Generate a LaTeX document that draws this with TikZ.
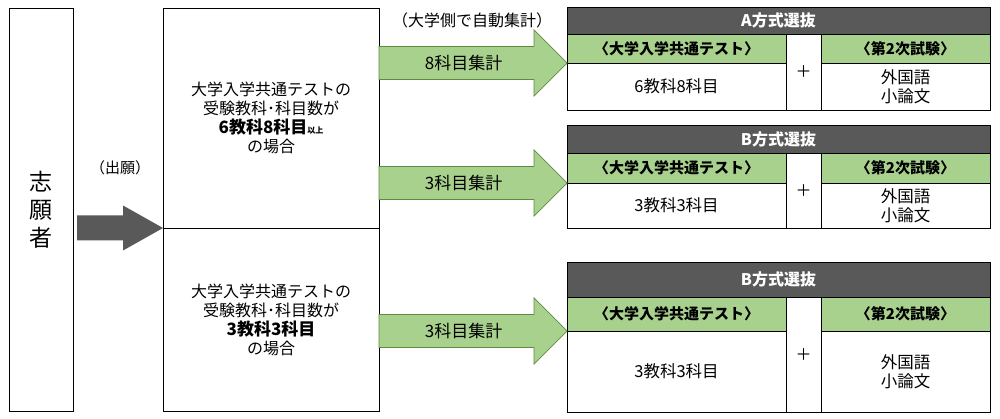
\documentclass[tikz,border=0pt]{standalone}
\usepackage{fontspec}
\setmainfont{Noto Sans CJK JP}
\usepackage{tikz}
\usetikzlibrary{calc}

\definecolor{titlegray}{HTML}{595959}
\definecolor{headgreen}{HTML}{A9D18E}
\definecolor{arrowgreen}{HTML}{5E8C3E}
\definecolor{applygray}{HTML}{595959}

\begin{document}
\begin{tikzpicture}[x=1pt,y=-1pt,
    every node/.style={inner sep=0pt, outer sep=0pt},
    box/.style={draw=black, line width=0.9pt, fill=white, anchor=north west, align=center},
    seltitle/.style={box, fill=titlegray, text=white, font=\fontsize{16}{19}\selectfont\bfseries},
    selhead/.style={box, fill=headgreen, font=\fontsize{15}{18}\selectfont\bfseries},
    selcell/.style={box, font=\fontsize{16.5}{19.5}\selectfont},
    blockarrow/.style args={#1/#2/#3}{to path={
        ($(\tikztostart)+(0,-#1)$) -- ($(\tikztotarget)+(-#3,-#1)$)
        -- ($(\tikztotarget)+(-#3,-#2)$) -- (\tikztotarget)
        -- ($(\tikztotarget)+(-#3,#2)$) -- ($(\tikztotarget)+(-#3,#1)$)
        -- ($(\tikztostart)+(0,#1)$) -- cycle}},
    gostep/.style={blockarrow=16.5/33/33, fill=headgreen, draw=arrowgreen, line width=0.7pt},
    applystep/.style={blockarrow=12.5/22.5/40, fill=applygray},
    steplabel/.style={font=\fontsize{17}{19}\selectfont}]

    \fill [white] (0,0) rectangle (1000,419);

    % applicant and the two cases
    \node [box, minimum width=64, minimum height=403, font=\fontsize{23}{28}\selectfont] (applicant) at (9,8) {志\\願\\者};
    \node [box, minimum width=216, minimum height=220, font=\fontsize{16}{19}\selectfont] (caseA) at (163,8)
        {大学入学共通テストの\\受験教科･科目数が\\{\bfseries\fontsize{17}{19}\selectfont 6教科8科目}{\bfseries\fontsize{8}{8}\selectfont 以上}\\の場合};
    \node [box, minimum width=216, minimum height=183, font=\fontsize{16}{19}\selectfont] (caseB) at (163,228)
        {大学入学共通テストの\\受験教科･科目数が\\{\bfseries\fontsize{17}{19}\selectfont 3教科3科目}\\の場合};

    % A selection
    \node [seltitle, minimum width=423, minimum height=27] (selA) at (567,7) {A方式選抜};
    \node [selhead, minimum width=219, minimum height=29] (selA-test) at (selA.south west) {〈大学入学共通テスト〉};
    \node [box, minimum width=35, minimum height=76, font=\fontsize{16}{19}\selectfont] (selA-plus) at (selA-test.north east) {＋};
    \node [selhead, minimum width=169, minimum height=29] (selA-exam) at (selA-plus.north east) {〈第2次試験〉};
    \node [selcell, minimum width=219, minimum height=47] (selA-subj) at (selA-test.south west) {6教科8科目};
    \node [selcell, minimum width=169, minimum height=47] (selA-essay) at (selA-exam.south west) {外国語\\小論文};

    % B selection (upper)
    \node [seltitle, minimum width=423, minimum height=28] (selB) at (567,125) {B方式選抜};
    \node [selhead, minimum width=219, minimum height=30] (selB-test) at (selB.south west) {〈大学入学共通テスト〉};
    \node [box, minimum width=35, minimum height=75, font=\fontsize{16}{19}\selectfont] (selB-plus) at (selB-test.north east) {＋};
    \node [selhead, minimum width=169, minimum height=30] (selB-exam) at (selB-plus.north east) {〈第2次試験〉};
    \node [selcell, minimum width=219, minimum height=45] (selB-subj) at (selB-test.south west) {3教科3科目};
    \node [selcell, minimum width=169, minimum height=45] (selB-essay) at (selB-exam.south west) {外国語\\小論文};

    % B selection (lower)
    \node [seltitle, minimum width=423, minimum height=35] (selC) at (567,262) {B方式選抜};
    \node [selhead, minimum width=219, minimum height=34] (selC-test) at (selC.south west) {〈大学入学共通テスト〉};
    \node [box, minimum width=35, minimum height=115, font=\fontsize{16}{19}\selectfont] (selC-plus) at (selC-test.north east) {＋};
    \node [selhead, minimum width=169, minimum height=34] (selC-exam) at (selC-plus.north east) {〈第2次試験〉};
    \node [selcell, minimum width=219, minimum height=81] (selC-subj) at (selC-test.south west) {3教科3科目};
    \node [selcell, minimum width=169, minimum height=81] (selC-essay) at (selC-exam.south west) {外国語\\小論文};

    % arrows
    \coordinate (applyfrom) at ($(applicant.east |- caseA.south west)+(4,0)$);
    \coordinate (fromA) at (caseA.east |- selA-test.south west);
    \coordinate (fromB) at (caseA.east |- selB-test.south west);
    \coordinate (fromC) at (caseB.east |- selC-test.south west);
    \path [applystep] (applyfrom) to (caseA.south west);
    \path [gostep] (fromA) to (selA-test.south west);
    \path [gostep] (fromB) to (selB-test.south west);
    \path [gostep] (fromC) to (selC-test.south west);
    \node [steplabel] (countA) at ($(fromA)!0.45!(selA-test.south west)$) {8科目集計};
    \node [steplabel] (countB) at ($(fromB)!0.45!(selB-test.south west)$) {3科目集計};
    \node [steplabel] (countC) at ($(fromC)!0.45!(selC-test.south west)$) {3科目集計};

    \node [font=\fontsize{15}{18}\selectfont] (applylabel) at (120,168) {（出願）};
    \node [font=\fontsize{16}{19}\selectfont] (autolabel) at (472,20) {（大学側で自動集計）};
\end{tikzpicture}
\end{document}
